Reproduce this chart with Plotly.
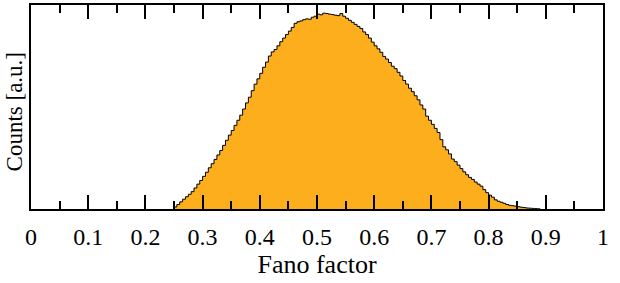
import plotly.graph_objects as go

# Histogram of Fano factor (arbitrary units), bins of width 0.005 starting at 0.25
BIN_START = 0.25
BIN_WIDTH = 0.005
counts = [
    0.010, 0.022, 0.035, 0.048, 0.060, 0.072, 0.085, 0.103, 0.122, 0.140,
    0.160, 0.180, 0.202, 0.222, 0.243, 0.265, 0.287, 0.312, 0.337, 0.362,
    0.385, 0.410, 0.435, 0.460, 0.490, 0.520, 0.548, 0.580, 0.612, 0.638,
    0.665, 0.695, 0.720, 0.750, 0.770, 0.782, 0.800, 0.820, 0.838, 0.855,
    0.872, 0.890, 0.910, 0.918, 0.922, 0.928, 0.932, 0.930, 0.940, 0.945,
    0.955, 0.952, 0.960, 0.958, 0.955, 0.953, 0.950, 0.948, 0.958, 0.945,
    0.935, 0.925, 0.915, 0.905, 0.895, 0.885, 0.868, 0.855, 0.838, 0.818,
    0.800, 0.785, 0.768, 0.748, 0.735, 0.718, 0.700, 0.688, 0.670, 0.652,
    0.630, 0.612, 0.592, 0.575, 0.555, 0.535, 0.510, 0.490, 0.455, 0.435,
    0.415, 0.395, 0.375, 0.340, 0.305, 0.290, 0.270, 0.245, 0.232, 0.215,
    0.198, 0.182, 0.168, 0.155, 0.145, 0.132, 0.122, 0.112, 0.095, 0.080,
    0.068, 0.058, 0.045, 0.038, 0.033, 0.028, 0.022, 0.018, 0.016, 0.014,
    0.011, 0.009, 0.007, 0.005, 0.004, 0.003, 0.002, 0.001,
]
x_tick_vals = [0, 0.1, 0.2, 0.3, 0.4, 0.5, 0.6, 0.7, 0.8, 0.9, 1]
x_tick_text = ["0", "0.1", "0.2", "0.3", "0.4", "0.5", "0.6", "0.7", "0.8", "0.9", "1"]

edges = [round(BIN_START + BIN_WIDTH * i, 4) for i in range(len(counts) + 1)]
xs = [edges[0]] + edges
ys = [0] + counts + [0]

FONT = "Liberation Serif"

fig = go.Figure()
fig.add_trace(go.Scatter(
    x=xs, y=ys, mode="lines", line=dict(shape="hv", color="black", width=1),
    fill="tozeroy", fillcolor="rgb(253,174,28)", hoverinfo="skip", showlegend=False,
))

fig.update_layout(
    width=620, height=283,
    margin=dict(l=31, r=17, t=3, b=74),
    paper_bgcolor="white", plot_bgcolor="white",
    font=dict(family=FONT, size=24, color="black"),
    showlegend=False,
)
fig.update_xaxes(
    range=[0, 1], tickvals=x_tick_vals, ticktext=x_tick_text,
    ticks="inside", ticklen=14, tickwidth=2, tickcolor="black",
    minor=dict(dtick=0.05, tick0=0, ticks="inside", ticklen=8, tickwidth=2, tickcolor="black"),
    showline=True, linecolor="black", linewidth=2, mirror="ticks",
    showgrid=False, zeroline=False,
    ticklabelstandoff=5,
    title=dict(text="Fano factor", font=dict(family=FONT, size=26), standoff=4),
    tickfont=dict(family=FONT, size=24),
)
fig.update_yaxes(
    range=[0, 1], showticklabels=False, ticks="",
    showline=True, linecolor="black", linewidth=2, mirror=True,
    showgrid=False, zeroline=False,
)
fig.add_annotation(
    text="Counts [a.u.]", textangle=-90, showarrow=False,
    xref="paper", yref="paper", x=(14 - 31) / 572, y=(209 - 111.5) / 206,
    xanchor="center", yanchor="middle",
    font=dict(family=FONT, size=23, color="black"),
)

fig.write_html("out.html")
